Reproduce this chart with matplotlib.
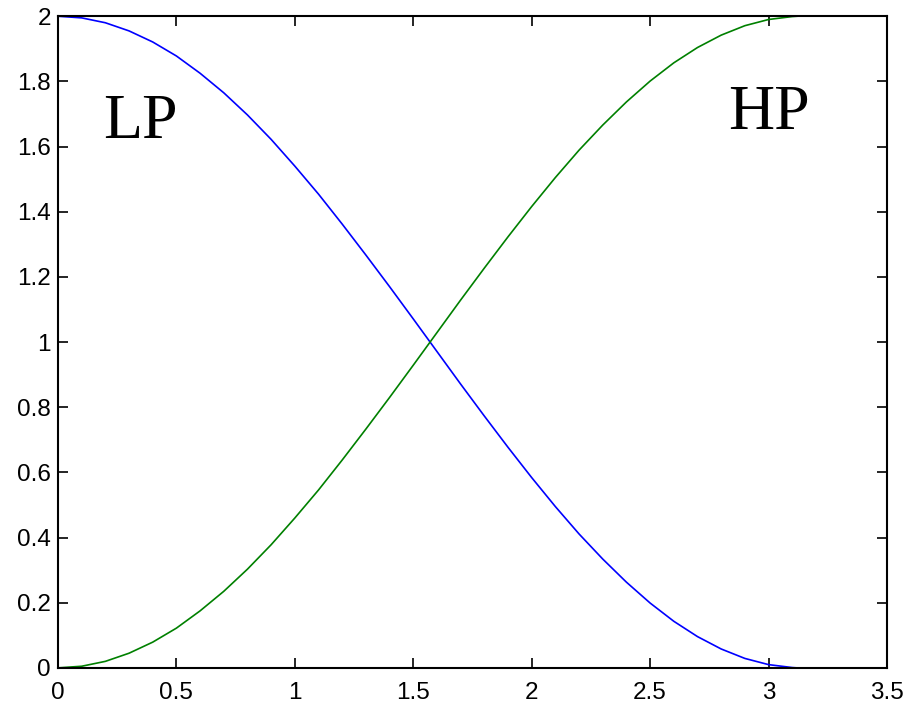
import matplotlib
matplotlib.use('Agg')
import matplotlib.pyplot as plt

# values
w = [0.0, 0.1, 0.2, 0.3, 0.4, 0.5, 0.6, 0.7, 0.8, 0.9, 1.0, 1.1, 1.2, 1.3, 1.4, 1.5,
     1.6, 1.7, 1.8, 1.9, 2.0, 2.1, 2.2, 2.3, 2.4, 2.5, 2.6, 2.7, 2.8, 2.9, 3.0, 3.1, 3.12]
lp = [2.0, 1.995, 1.98, 1.955, 1.921, 1.878, 1.825, 1.765, 1.697, 1.622, 1.54, 1.454,
      1.362, 1.267, 1.17, 1.071, 0.971, 0.871, 0.773, 0.677, 0.584, 0.495, 0.411,
      0.334, 0.263, 0.199, 0.143, 0.096, 0.058, 0.029, 0.01, 0.001, 0.0]
hp = [0.0, 0.005, 0.02, 0.045, 0.079, 0.122, 0.175, 0.235, 0.303, 0.378, 0.46, 0.546,
      0.638, 0.733, 0.83, 0.929, 1.029, 1.129, 1.227, 1.323, 1.416, 1.505, 1.589,
      1.666, 1.737, 1.801, 1.857, 1.904, 1.942, 1.971, 1.99, 1.999, 2.0]

xticks = [0, 0.5, 1, 1.5, 2, 2.5, 3, 3.5]
yticks = [0, 0.2, 0.4, 0.6, 0.8, 1, 1.2, 1.4, 1.6, 1.8, 2]

plt.rcParams['font.family'] = ['Liberation Sans', 'DejaVu Sans']

fig = plt.figure(figsize=(9.06, 7.06), dpi=100)
ax = fig.add_axes([0.064, 0.054, 0.915, 0.923])

ax.plot(w, lp, color='#0000ff', lw=1.2)
ax.plot(w, hp, color='#008000', lw=1.2)

ax.set_xlim(0, 3.5)
ax.set_ylim(0, 2)
ax.set_xticks(xticks)
ax.set_xticklabels(['0', '0.5', '1', '1.5', '2', '2.5', '3', '3.5'])
ax.set_yticks(yticks)
ax.set_yticklabels(['0', '0.2', '0.4', '0.6', '0.8', '1', '1.2', '1.4', '1.6', '1.8', '2'])
ax.tick_params(direction='in', top=True, right=True, length=7, width=1.2,
               labelsize=17.5)
ax.tick_params(axis='x', pad=10)
ax.tick_params(axis='y', pad=5)
for s in ax.spines.values():
    s.set_linewidth(1.5)

ax.text(0.19, 1.625, 'LP', family='Liberation Serif', fontsize=46)
ax.text(2.83, 1.655, 'HP', family='Liberation Serif', fontsize=46)

fig.savefig('out.png', dpi=100)
